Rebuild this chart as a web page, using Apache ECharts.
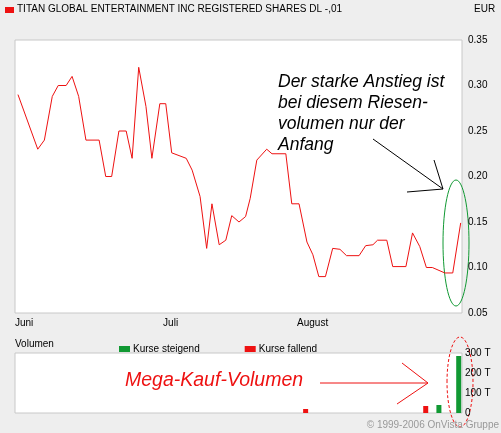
<!DOCTYPE html>
<html><head><meta charset="utf-8">
<script src="https://cdn.jsdelivr.net/npm/echarts@6/dist/echarts.min.js"></script>
<style>html,body{margin:0;padding:0;background:#eeeeee}#c{width:501px;height:433px}</style>
</head><body><div id="c"></div>
<script>
// trading-day index (x) and price in EUR
const priceDays = [0,3,4,5.2,6.1,7.3,8.2,9.2,10.3,12.3,13.3,14.2,15.3,16.4,17.3,18.3,19.4,20.3,21.5,22.4,23.3,25.5,26.4,27.6,28.6,29.4,30.5,31.5,32.4,33.5,34.5,35.2,36.2,37.7,38.5,40.6,41.5,42.6,43.8,44.7,45.6,46.6,47.7,48.8,49.8,51.7,52.7,53.8,54.5,55.9,56.8,58.8,59.8,60.9,61.9,62.8,64.7,65.9,67.1];
const priceVals = [0.29,0.23,0.24,0.288,0.30,0.30,0.31,0.288,0.24,0.24,0.20,0.20,0.25,0.25,0.22,0.32,0.277,0.22,0.28,0.28,0.226,0.22,0.207,0.178,0.121,0.17,0.125,0.13,0.157,0.15,0.156,0.176,0.218,0.23,0.225,0.225,0.17,0.17,0.128,0.114,0.09,0.09,0.121,0.12,0.113,0.113,0.124,0.125,0.13,0.13,0.101,0.101,0.138,0.123,0.10,0.10,0.094,0.094,0.149];
const volRiseDays = [63.8,66.8];
const volRiseVals = [40,285];
const volFallDays = [43.6,61.8];
const volFallVals = [20,35];
const priceTicks = [0.05,0.10,0.15,0.20,0.25,0.30,0.35];
const monthTicks = [-0.45,22,42.3];
const monthNames = ['Juni','Juli','August'];

const pts = priceDays.map((d,i)=>[d,priceVals[i]]);
const xmin=-0.45, xmax=67.3;
const font='Liberation Sans, Arial, sans-serif';
const chart = echarts.init(document.getElementById('c'));
chart.setOption({
  animation:false,
  backgroundColor:'#eeeeee',
  textStyle:{fontFamily:font},
  grid:[
    {left:15,right:39,top:40,bottom:120,show:true,backgroundColor:'#fff',borderColor:'#c8c8c8',borderWidth:1},
    {left:15,right:39,top:353,bottom:20,show:true,backgroundColor:'#fff',borderColor:'#c8c8c8',borderWidth:1}
  ],
  xAxis:[
    {type:'value',gridIndex:0,min:xmin,max:xmax,axisLine:{show:false},axisTick:{show:false},splitLine:{show:false},
     axisLabel:{customValues:monthTicks,formatter:v=>monthNames[monthTicks.findIndex(t=>Math.abs(t-v)<0.01)]||'',align:'left',color:'#000',fontSize:10,margin:5}},
    {type:'value',gridIndex:1,min:xmin,max:xmax,show:false}
  ],
  yAxis:[
    {type:'value',gridIndex:0,position:'right',min:0.05,max:0.35,interval:0.05,axisLine:{show:false},axisTick:{show:false},splitLine:{show:false},
     axisLabel:{formatter:v=>v.toFixed(2),color:'#000',fontSize:10,margin:6}},
    {type:'value',gridIndex:1,position:'right',min:0,max:300,interval:100,axisLine:{show:false},axisTick:{show:false},splitLine:{show:false},
     axisLabel:{formatter:v=>v===0?'0':v+' T',color:'#000',fontSize:10,margin:3}}
  ],
  legend:{left:114,top:339,itemWidth:11,itemHeight:6,itemGap:45,icon:'rect',textStyle:{fontSize:10,color:'#000',padding:[0,0,0,-2]},
    data:['Kurse steigend','Kurse fallend']},
  series:[
    {type:'line',xAxisIndex:0,yAxisIndex:0,data:pts,symbol:'none',lineStyle:{color:'#ee1111',width:1},silent:true},
    {name:'Kurse steigend',type:'bar',xAxisIndex:1,yAxisIndex:1,data:volRiseDays.map((d,i)=>[d,volRiseVals[i]]),barWidth:5,itemStyle:{color:'#119933'},barGap:'-100%'},
    {name:'Kurse fallend',type:'bar',xAxisIndex:1,yAxisIndex:1,data:volFallDays.map((d,i)=>[d,volFallVals[i]]),barWidth:5,itemStyle:{color:'#ee1111'},barGap:'-100%'}
  ],
  graphic:[
    {type:'rect',shape:{x:5,y:7,width:9,height:6},style:{fill:'#ee1111'}},
    {type:'text',x:17,y:4,style:{text:'TITAN GLOBAL ENTERTAINMENT INC REGISTERED SHARES DL -,01',fontSize:10,fill:'#000',fontFamily:font}},
    {type:'text',x:474,y:4,style:{text:'EUR',fontSize:10,fill:'#000',fontFamily:font}},
    {type:'text',x:15,y:339,style:{text:'Volumen',fontSize:10,fill:'#000',fontFamily:font}},
    {type:'text',x:278,y:72,style:{text:'Der starke Anstieg ist\nbei diesem Riesen-\nvolumen nur der\nAnfang',fontSize:17.5,fontStyle:'italic',lineHeight:21,fill:'#000',fontFamily:font}},
    {type:'line',shape:{x1:373,y1:139,x2:443,y2:189},style:{stroke:'#000',lineWidth:1}},
    {type:'line',shape:{x1:434,y1:160,x2:443,y2:189},style:{stroke:'#000',lineWidth:1}},
    {type:'line',shape:{x1:407,y1:192,x2:443,y2:189},style:{stroke:'#000',lineWidth:1}},
    {type:'ellipse',shape:{cx:456,cy:243,rx:13,ry:63},style:{fill:'none',stroke:'#119933',lineWidth:1}},
    {type:'text',x:125,y:371,style:{text:'Mega-Kauf-Volumen',fontSize:19.5,fontStyle:'italic',fill:'#ee1111',fontFamily:font}},
    {type:'line',shape:{x1:320,y1:383,x2:428,y2:383},style:{stroke:'#ee1111',lineWidth:1}},
    {type:'line',shape:{x1:402,y1:363,x2:428,y2:383},style:{stroke:'#ee1111',lineWidth:1}},
    {type:'line',shape:{x1:397,y1:404,x2:428,y2:383},style:{stroke:'#ee1111',lineWidth:1}},
    {type:'ellipse',shape:{cx:460,cy:382,rx:13,ry:45},style:{fill:'none',stroke:'#ee1111',lineWidth:1,lineDash:[3,2]}},
    {type:'text',right:2,y:420,style:{text:'© 1999-2006 OnVista Gruppe',fontSize:10,fill:'#999',fontFamily:font}}
  ]
});
</script></body></html>
